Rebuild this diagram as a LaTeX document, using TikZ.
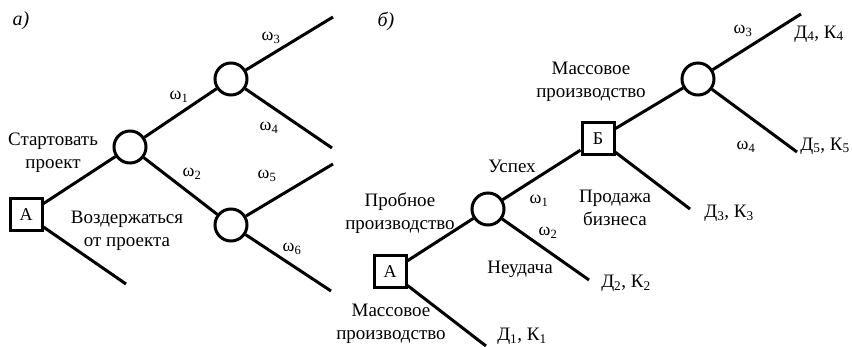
\documentclass[tikz,border=0pt]{standalone}
\usepackage{fontspec}
\setmainfont{Liberation Serif}
\begin{document}
\begin{tikzpicture}[x=1pt,y=-1pt,
  conn/.style={line width=3pt},
  decbox/.style={draw,line width=3pt,minimum size=32pt,inner sep=0pt,font=\fontsize{18}{20}\selectfont},
  chance/.style={draw,circle,line width=3pt,minimum size=32pt,inner sep=0pt},
  lbl/.style={inner sep=0pt,align=center,font=\fontsize{19}{23}\selectfont},
  wlbl/.style={inner sep=0pt,font=\fontsize{18}{20}\selectfont},
  tag/.style={inner sep=0pt,font=\fontsize{20}{22}\selectfont\itshape}]
\useasboundingbox (0,0) rectangle (852,347);
% ---------- a ----------
\node[tag] (ta) at (21,21) {а)};
\node[decbox] (A1) at (26,215) {А};
\node[chance] (c1) at (130,147) {};
\node[chance] (c2) at (231,79) {};
\node[chance] (c3) at (231,225) {};
\coordinate (e1) at (126,284);
\coordinate (e3) at (333,17);
\coordinate (e4) at (332,148);
\coordinate (e5) at (333,164);
\coordinate (e6) at (331,291);
\draw[conn] (A1) -- (c1);
\draw[conn] (A1) -- (e1);
\draw[conn] (c1) -- (c2);
\draw[conn] (c1) -- (c3);
\draw[conn] (c2) -- (e3);
\draw[conn] (c2) -- (e4);
\draw[conn] (c3) -- (e5);
\draw[conn] (c3) -- (e6);
\node[lbl] (l1) at (53,153) {Стартовать\\проект};
\node[lbl] (l2) at (127,231) {Воздержаться\\от проекта};
\node[wlbl] (w1) at (179,97) {ω\textsubscript{1}};
\node[wlbl] (w2) at (192,174) {ω\textsubscript{2}};
\node[wlbl] (w3) at (271,38) {ω\textsubscript{3}};
\node[wlbl] (w4) at (269,128) {ω\textsubscript{4}};
\node[wlbl] (w5) at (267,176) {ω\textsubscript{5}};
\node[wlbl] (w6) at (292,249) {ω\textsubscript{6}};
% ---------- b ----------
\node[tag] (tb) at (386,21) {б)};
\node[decbox] (BA) at (390,272) {А};
\node[chance] (d1) at (488,209) {};
\node[decbox] (BB) at (598,139) {Б};
\node[chance] (d2) at (698,79) {};
\coordinate (f1) at (486,346);
\coordinate (f2) at (589,280);
\coordinate (f3) at (690,209);
\coordinate (f4) at (801,14);
\coordinate (f5) at (797,152);
\draw[conn] (BA) -- (d1);
\draw[conn] (BA) -- (f1);
\draw[conn] (d1) -- (BB);
\draw[conn] (d1) -- (f2);
\draw[conn] (BB) -- (d2);
\draw[conn] (BB) -- (f3);
\draw[conn] (d2) -- (f4);
\draw[conn] (d2) -- (f5);
\node[lbl] (m1) at (591,82) {Массовое\\производство};
\node[lbl] (m2) at (512,166) {Успех};
\node[lbl] (m3) at (615,208) {Продажа\\бизнеса};
\node[lbl] (m4) at (400,213) {Пробное\\производство};
\node[lbl] (m5) at (520,269) {Неудача};
\node[lbl] (m6) at (391,324) {Массовое\\производство};
\node[wlbl] (v1) at (539,201) {ω\textsubscript{1}};
\node[wlbl] (v2) at (548,233) {ω\textsubscript{2}};
\node[wlbl] (v3) at (743,31) {ω\textsubscript{3}};
\node[wlbl] (v4) at (746,147) {ω\textsubscript{4}};
\node[lbl] (r4) at (819,34) {Д\textsubscript{4}, К\textsubscript{4}};
\node[lbl] (r5) at (825,146) {Д\textsubscript{5}, К\textsubscript{5}};
\node[lbl] (r3) at (729,213) {Д\textsubscript{3}, К\textsubscript{3}};
\node[lbl] (r2) at (626,283) {Д\textsubscript{2}, К\textsubscript{2}};
\node[lbl] (r1) at (522,336) {Д\textsubscript{1}, К\textsubscript{1}};
\end{tikzpicture}
\end{document}
